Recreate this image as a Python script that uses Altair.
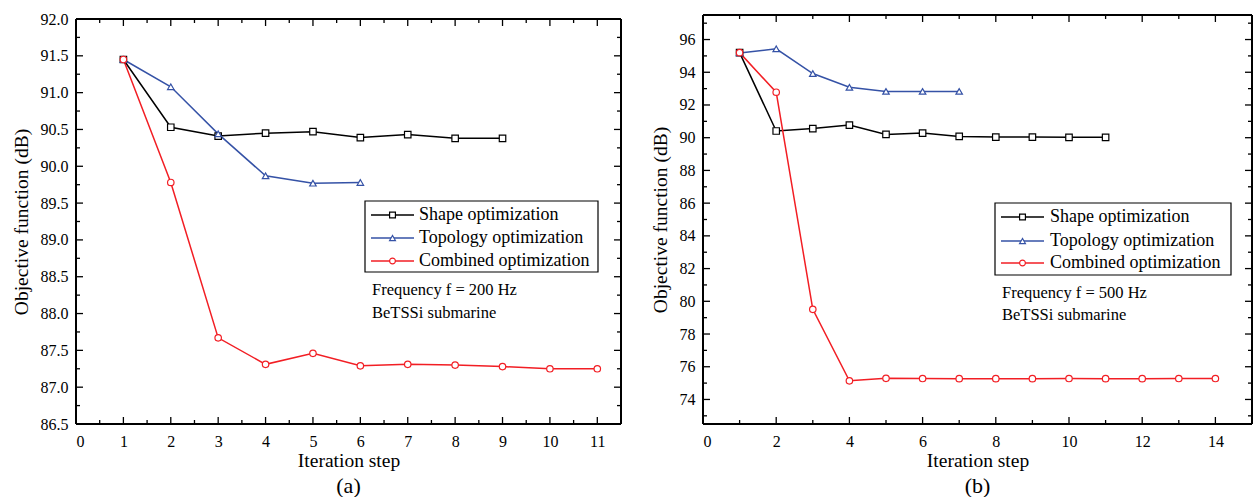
import altair as alt
import pandas as pd

FONT = "Liberation Serif"
SERIES = ["Shape optimization", "Topology optimization", "Combined optimization"]
COLORS = ["#000000", "#3552a6", "#f21e24"]
SHAPES = ["square", "triangle-up", "circle"]

# ---- panel (a): f = 200 Hz ----
a_shape_x = [1, 2, 3, 4, 5, 6, 7, 8, 9]
a_shape_y = [91.45, 90.53, 90.41, 90.45, 90.47, 90.39, 90.43, 90.38, 90.38]
a_topo_x = [1, 2, 3, 4, 5, 6]
a_topo_y = [91.45, 91.08, 90.44, 89.87, 89.77, 89.78]
a_comb_x = [1, 2, 3, 4, 5, 6, 7, 8, 9, 10, 11]
a_comb_y = [91.45, 89.78, 87.67, 87.31, 87.46, 87.29, 87.31, 87.30, 87.28, 87.25, 87.25]

# ---- panel (b): f = 500 Hz ----
b_shape_x = [1, 2, 3, 4, 5, 6, 7, 8, 9, 10, 11]
b_shape_y = [95.2, 90.41, 90.56, 90.77, 90.2, 90.28, 90.08, 90.04, 90.04, 90.02, 90.02]
b_topo_x = [1, 2, 3, 4, 5, 6, 7]
b_topo_y = [95.18, 95.43, 93.92, 93.08, 92.83, 92.83, 92.83]
b_comb_x = [1, 2, 3, 4, 5, 6, 7, 8, 9, 10, 11, 12, 13, 14]
b_comb_y = [95.2, 92.78, 79.51, 75.14, 75.29, 75.28, 75.27, 75.27, 75.27, 75.28, 75.27, 75.27, 75.28, 75.28]

# axis ticks
a_x_major = list(range(0, 12))
a_x_minor = [i + 0.5 for i in range(0, 11)]
a_y_major = [86.5 + 0.5 * i for i in range(12)]
a_y_minor = [86.75 + 0.5 * i for i in range(11)]
b_x_major = list(range(0, 16, 2))
b_x_minor = list(range(1, 16, 2))
b_y_major = list(range(74, 98, 2))
b_y_minor = list(range(73, 98, 2))


def make_df(sets):
    rows = []
    for name, xs, ys in sets:
        for x, y in zip(xs, ys):
            rows.append({"series": name, "step": x, "value": y})
    return pd.DataFrame(rows)


def panel(df, xdom, ydom, xmaj, xmin, ymaj, ymin, W, H, top, yfmt, ytitle_pad,
          leg, ann_pos, ann_texts, label):
    xs = alt.Scale(domain=xdom, nice=False, zero=False)
    ys = alt.Scale(domain=ydom, nice=False, zero=False, range=[H, top])
    cscale = alt.Scale(domain=SERIES, range=COLORS)
    sscale = alt.Scale(domain=SERIES, range=SHAPES)
    xaxis = alt.Axis(
        values=xmaj, ticks=False, domain=False, grid=False, format="d",
        labelFont=FONT, labelFontSize=16, labelColor="black", labelPadding=9,
        title="Iteration step", titleFont=FONT, titleFontSize=19.5,
        titleFontWeight="normal", titleColor="black", titlePadding=2)
    yaxis = alt.Axis(
        values=ymaj, ticks=False, domain=False, grid=False, format=yfmt,
        labelFont=FONT, labelFontSize=16, labelColor="black", labelPadding=8,
        title="Objective function (dB)", titleFont=FONT, titleFontSize=19.5,
        titleFontWeight="normal", titleColor="black", titlePadding=ytitle_pad)

    lines = alt.Chart(df).mark_line(strokeWidth=1.5).encode(
        x=alt.X("step:Q", scale=xs, axis=xaxis),
        y=alt.Y("value:Q", scale=ys, axis=yaxis),
        color=alt.Color("series:N", scale=cscale, legend=None),
        order=alt.Order("step:Q"),
    )
    pts = alt.Chart(df).mark_point(filled=True, fill="white", fillOpacity=1,
                                   opacity=1, size=42, strokeWidth=1.2).encode(
        x=alt.X("step:Q", scale=xs, axis=xaxis),
        y=alt.Y("value:Q", scale=ys, axis=yaxis),
        stroke=alt.Stroke("series:N", scale=cscale, legend=None),
        shape=alt.Shape("series:N", scale=sscale, legend=None),
    )
    layers = [lines, pts]

    one = pd.DataFrame({"a": [0]})
    # plot frame
    fr = dict(color="black", strokeWidth=2)
    layers.append(alt.Chart(one).mark_rule(**fr).encode(
        x=alt.value(0), x2=alt.value(W), y=alt.value(top)))
    layers.append(alt.Chart(one).mark_rule(**fr).encode(
        x=alt.value(0), x2=alt.value(W), y=alt.value(H)))
    layers.append(alt.Chart(one).mark_rule(**fr).encode(
        x=alt.value(0), y=alt.value(top), y2=alt.value(H)))
    layers.append(alt.Chart(one).mark_rule(**fr).encode(
        x=alt.value(W), y=alt.value(top), y2=alt.value(H)))

    # inward ticks on all four sides
    for vals, ln in ((xmaj, 7), (xmin, 4)):
        d = pd.DataFrame({"step": vals})
        layers.append(alt.Chart(d).mark_rule(color="black", strokeWidth=1.3).encode(
            x=alt.X("step:Q", scale=xs, axis=xaxis), y=alt.value(H), y2=alt.value(H - ln)))
        layers.append(alt.Chart(d).mark_rule(color="black", strokeWidth=1.3).encode(
            x=alt.X("step:Q", scale=xs, axis=xaxis), y=alt.value(top), y2=alt.value(top + ln)))
    for vals, ln in ((ymaj, 7), (ymin, 4)):
        d = pd.DataFrame({"value": vals})
        layers.append(alt.Chart(d).mark_rule(color="black", strokeWidth=1.3).encode(
            y=alt.Y("value:Q", scale=ys, axis=yaxis), x=alt.value(0), x2=alt.value(ln)))
        layers.append(alt.Chart(d).mark_rule(color="black", strokeWidth=1.3).encode(
            y=alt.Y("value:Q", scale=ys, axis=yaxis), x=alt.value(W), x2=alt.value(W - ln)))

    # legend box
    lx0, lx1, ly0, ly1, rows_y, line_x0, line_x1, text_x = leg
    layers.append(alt.Chart(one).mark_rect(fill="white", stroke="black", strokeWidth=1.2).encode(
        x=alt.value(lx0), x2=alt.value(lx1), y=alt.value(ly0), y2=alt.value(ly1)))
    for name, col, shp, yy in zip(SERIES, COLORS, SHAPES, rows_y):
        layers.append(alt.Chart(one).mark_rule(color=col, strokeWidth=1.5).encode(
            x=alt.value(line_x0), x2=alt.value(line_x1), y=alt.value(yy)))
        layers.append(alt.Chart(one).mark_point(shape=shp, filled=True, fill="white",
                                                stroke=col, size=34, strokeWidth=1.2,
                                                opacity=1).encode(
            x=alt.value((line_x0 + line_x1) / 2), y=alt.value(yy)))
        layers.append(alt.Chart(one).mark_text(align="left", baseline="middle", font=FONT,
                                               fontSize=18, color="black").encode(
            x=alt.value(text_x), y=alt.value(yy), text=alt.value(name)))
    ax, ay0, ay1 = ann_pos
    for t, yy in zip(ann_texts, (ay0, ay1)):
        layers.append(alt.Chart(one).mark_text(align="left", baseline="middle", font=FONT,
                                               fontSize=16.5, color="black").encode(
            x=alt.value(ax), y=alt.value(yy), text=alt.value(t)))

    return alt.layer(*layers).properties(
        width=W, height=H,
        view=alt.ViewBackground(stroke=None),
        title=alt.TitleParams(label, orient="bottom", font=FONT, fontSize=22,
                              fontWeight="normal", color="black", offset=6,
                              anchor="middle", frame="group"))


dfa = make_df([(SERIES[0], a_shape_x, a_shape_y), (SERIES[1], a_topo_x, a_topo_y),
               (SERIES[2], a_comb_x, a_comb_y)])
dfb = make_df([(SERIES[0], b_shape_x, b_shape_y), (SERIES[1], b_topo_x, b_topo_y),
               (SERIES[2], b_comb_x, b_comb_y)])

left = panel(dfa, [0, 11.5], [86.5, 92.0], a_x_major, a_x_minor, a_y_major, a_y_minor,
             545, 409, 4, ".1f", 9,
             (289, 522, 186, 257, [200, 223, 246], 295, 338, 343),
             (296, 275, 298), ["Frequency f = 200 Hz", "BeTSSi submarine"], "(a)")
right = panel(dfb, [0, 15], [72.5, 97.5], b_x_major, b_x_minor, b_y_major, b_y_minor,
              549, 409, 0, "d", 9,
              (292, 528, 188, 260, [202, 226, 248], 298, 341, 347),
              (299, 278, 300), ["Frequency f = 500 Hz", "BeTSSi submarine"], "(b)")

chart = alt.hconcat(left, right, spacing=28).properties(
    padding={"left": 11, "top": 11, "right": 0, "bottom": 0},
    background="white",
)

chart.save("out.html", embed_options={"renderer": "svg", "actions": False})
